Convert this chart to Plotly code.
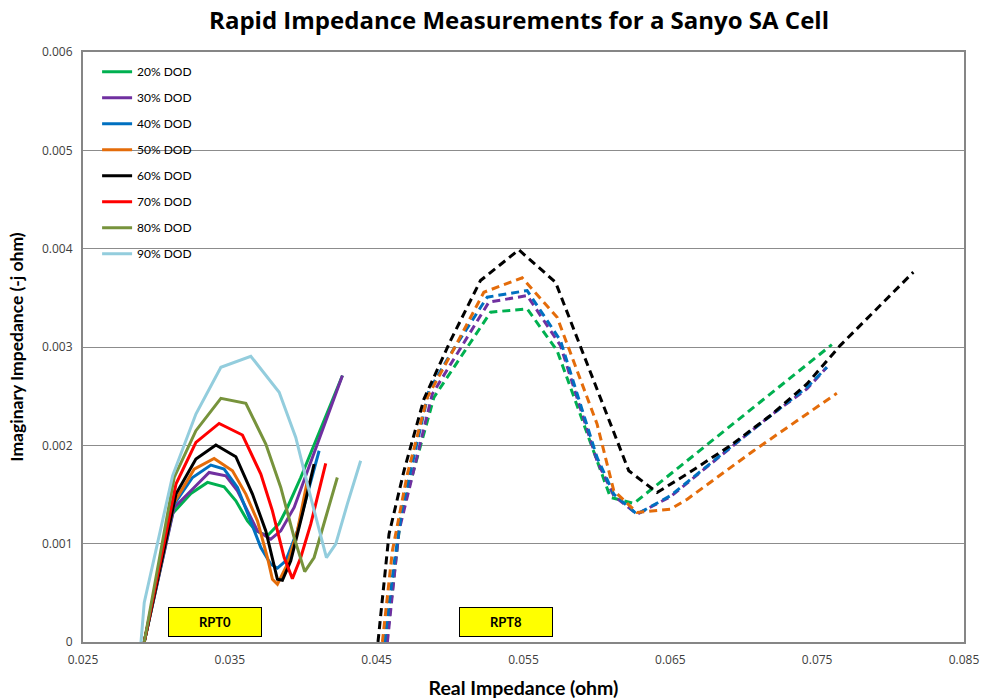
import plotly.graph_objects as go

# ---------------- data ----------------
dod_labels = ["20% DOD", "30% DOD", "40% DOD", "50% DOD", "60% DOD", "70% DOD", "80% DOD", "90% DOD"]
colors = ["#00B050", "#7030A0", "#0070C0", "#E46C0A", "#000000", "#FF0000", "#77933C", "#93CDDD"]

# RPT0 (solid lines)
rpt0_x_20 = [0.02917, 0.0311, 0.03235, 0.03348, 0.03461, 0.03541, 0.0362, 0.03677, 0.03756, 0.03836, 0.03892, 0.03983, 0.04267]
rpt0_y_20 = [0.0, 0.001307, 0.00151, 0.001623, 0.001578, 0.001436, 0.001232, 0.00113, 0.00108, 0.001205, 0.001368, 0.001673, 0.00271]

rpt0_x_30 = [0.02917, 0.03121, 0.03235, 0.03359, 0.03473, 0.03552, 0.0362, 0.03688, 0.03779, 0.03847, 0.03938, 0.04267]
rpt0_y_30 = [0.0, 0.001368, 0.001538, 0.001724, 0.00169, 0.001538, 0.001334, 0.00113, 0.001045, 0.00113, 0.001368, 0.00271]

rpt0_x_40 = [0.02917, 0.03121, 0.03246, 0.03371, 0.03461, 0.03552, 0.03632, 0.03711, 0.03779, 0.03824, 0.03881, 0.0396, 0.04108]
rpt0_y_40 = [0.0, 0.001402, 0.001673, 0.001799, 0.001758, 0.001572, 0.001266, 0.000961, 0.000791, 0.00075, 0.000825, 0.00113, 0.001945]

rpt0_x_50 = [0.02917, 0.03121, 0.03257, 0.03393, 0.03518, 0.03609, 0.03688, 0.03756, 0.0379, 0.03824, 0.03892, 0.0396, 0.04028]
rpt0_y_50 = [0.0, 0.001419, 0.001758, 0.001867, 0.001741, 0.001504, 0.001232, 0.000859, 0.000638, 0.000587, 0.000791, 0.00113, 0.00164]

rpt0_x_60 = [0.02917, 0.03133, 0.03269, 0.03405, 0.03541, 0.03654, 0.03745, 0.03824, 0.03858, 0.03915, 0.03994, 0.04074]
rpt0_y_60 = [0.0, 0.001504, 0.00186, 0.002003, 0.001884, 0.001504, 0.00113, 0.000638, 0.000628, 0.000825, 0.0013, 0.001809]

rpt0_x_70 = [0.02917, 0.03133, 0.03269, 0.03427, 0.03586, 0.03711, 0.0379, 0.0387, 0.03926, 0.03983, 0.04051, 0.04153]
rpt0_y_70 = [0.0, 0.001606, 0.00203, 0.002223, 0.002105, 0.001707, 0.001334, 0.000859, 0.000645, 0.000859, 0.001198, 0.001816]

rpt0_x_80 = [0.02917, 0.03121, 0.03269, 0.03439, 0.03609, 0.03745, 0.03847, 0.03938, 0.0401, 0.04074, 0.04153, 0.04232]
rpt0_y_80 = [0.0, 0.001673, 0.002149, 0.002478, 0.002427, 0.002013, 0.001572, 0.001062, 0.000716, 0.000859, 0.001266, 0.001673]

rpt0_x_90 = [0.02895, 0.02917, 0.0311, 0.03269, 0.03439, 0.03643, 0.03836, 0.03949, 0.04051, 0.04158, 0.04221, 0.043, 0.04391]
rpt0_y_90 = [0.0, 0.0004, 0.00169, 0.002318, 0.002794, 0.002906, 0.002539, 0.002081, 0.00147, 0.000859, 0.000995, 0.001402, 0.001843]

# RPT8 (dashed lines)
rpt8_x_20 = [0.04568, 0.04663, 0.0489, 0.05276, 0.05525, 0.05729, 0.06092, 0.06251, 0.076]
rpt8_y_20 = [0.0, 0.001266, 0.002488, 0.003354, 0.003388, 0.002963, 0.00147, 0.001409, 0.003024]

rpt8_x_30 = [0.04573, 0.04652, 0.04879, 0.05026, 0.05264, 0.05525, 0.05752, 0.06001, 0.06115, 0.06273, 0.065, 0.06908, 0.0718, 0.0743, 0.07566]
rpt8_y_30 = [0.0, 0.00113, 0.002522, 0.002878, 0.003456, 0.003523, 0.003014, 0.001843, 0.001487, 0.0013, 0.001477, 0.001973, 0.002301, 0.002573, 0.002794]

rpt8_x_40 = [0.04554, 0.04618, 0.04675, 0.04856, 0.05003, 0.05253, 0.05525, 0.05752, 0.06001, 0.06115, 0.06273, 0.065, 0.06908, 0.0718, 0.0743, 0.07566]
rpt8_y_40 = [0.0, 0.000791, 0.001368, 0.002556, 0.002929, 0.003507, 0.003574, 0.003065, 0.001877, 0.001504, 0.0013, 0.001487, 0.001979, 0.002301, 0.00259, 0.002794]

rpt8_x_50 = [0.04539, 0.04607, 0.04709, 0.04845, 0.05026, 0.0523, 0.05491, 0.05729, 0.06001, 0.06115, 0.06273, 0.065, 0.06613, 0.07067, 0.07634]
rpt8_y_50 = [0.0, 0.000927, 0.001707, 0.002488, 0.00298, 0.003557, 0.003703, 0.003303, 0.002217, 0.001538, 0.001317, 0.001351, 0.00145, 0.001945, 0.002529]

rpt8_x_60 = [0.04509, 0.04584, 0.04686, 0.04822, 0.05003, 0.05207, 0.05468, 0.05718, 0.05978, 0.06217, 0.0641, 0.06613, 0.06908, 0.0718, 0.0743, 0.07656, 0.08155]
rpt8_y_60 = [0.0, 0.001096, 0.001741, 0.002471, 0.003065, 0.003676, 0.003988, 0.003659, 0.002658, 0.001741, 0.001521, 0.001707, 0.001996, 0.002301, 0.002624, 0.003014, 0.003761]

rpt0_x = [rpt0_x_20, rpt0_x_30, rpt0_x_40, rpt0_x_50, rpt0_x_60, rpt0_x_70, rpt0_x_80, rpt0_x_90]
rpt0_y = [rpt0_y_20, rpt0_y_30, rpt0_y_40, rpt0_y_50, rpt0_y_60, rpt0_y_70, rpt0_y_80, rpt0_y_90]
rpt8_x = [rpt8_x_20, rpt8_x_30, rpt8_x_40, rpt8_x_50, rpt8_x_60]
rpt8_y = [rpt8_y_20, rpt8_y_30, rpt8_y_40, rpt8_y_50, rpt8_y_60]

x_tickvals = [0.025, 0.035, 0.045, 0.055, 0.065, 0.075, 0.085]
x_ticktext = ["0.025", "0.035", "0.045", "0.055", "0.065", "0.075", "0.085"]
y_tickvals = [0, 0.001, 0.002, 0.003, 0.004, 0.005, 0.006]
y_ticktext = ["0", "0.001", "0.002", "0.003", "0.004", "0.005", "0.006"]

# ---------------- figure ----------------
FONT = "Lato, 'Open Sans', 'DejaVu Sans', sans-serif"
TFONT = "'Open Sans', Lato, 'DejaVu Sans', sans-serif"
fig = go.Figure()

for i in range(len(rpt0_x)):
    fig.add_trace(go.Scatter(
        x=rpt0_x[i], y=rpt0_y[i], mode="lines", name=dod_labels[i],
        legendgroup=dod_labels[i],
        line=dict(color=colors[i], width=3),
    ))

for i in range(len(rpt8_x)):
    fig.add_trace(go.Scatter(
        x=rpt8_x[i], y=rpt8_y[i], mode="lines", name=dod_labels[i] + " RPT8",
        legendgroup=dod_labels[i], showlegend=False,
        line=dict(color=colors[i], width=3, dash="8px,5px"),
    ))

fig.add_annotation(x=0.034, y=0.0002, xref="x", yref="y", text="<b>RPT0</b>",
                   showarrow=False, bgcolor="#FFFF00", bordercolor="#000000",
                   borderwidth=1, borderpad=1, width=90, height=26,
                   font=dict(family=FONT, size=13, color="#000000"))
fig.add_annotation(x=0.0538, y=0.0002, xref="x", yref="y", text="<b>RPT8</b>",
                   showarrow=False, bgcolor="#FFFF00", bordercolor="#000000",
                   borderwidth=1, borderpad=1, width=90, height=26,
                   font=dict(family=FONT, size=13, color="#000000"))

fig.update_layout(
    width=983, height=700,
    paper_bgcolor="white", plot_bgcolor="white",
    margin=dict(l=83, r=19, t=52, b=58, autoexpand=False),
    font=dict(family=FONT, size=12, color="#404040"),
    title=dict(text="<b>Rapid Impedance Measurements for a Sanyo SA Cell</b>",
               x=0.528, xref="container", xanchor="center",
               y=0.970, yref="container", yanchor="middle",
               font=dict(family=TFONT, size=24, color="#000000")),
    legend=dict(x=0.016, y=0.991, xanchor="left", yanchor="top",
                bgcolor="rgba(255,255,255,0)", borderwidth=0,
                font=dict(family=FONT, size=12, color="#000000"),
                tracegroupgap=7, itemwidth=30),
    showlegend=True,
)

fig.update_xaxes(
    range=[0.025, 0.085], tickmode="array", tickvals=x_tickvals, ticktext=x_ticktext,
    showgrid=False, zeroline=False, showline=True, mirror=True, automargin=False,
    linecolor="#868686", linewidth=2, ticks="", ticklabelstandoff=6,
    ticklabeloverflow="allow",
    tickfont=dict(family=TFONT, size=12, color="#404040"),
    title=dict(text="<b>Real Impedance (ohm)</b>", standoff=14,
               font=dict(family=FONT, size=19.5, color="#000000")),
)
fig.update_yaxes(
    range=[0, 0.006], tickmode="array", tickvals=y_tickvals, ticktext=y_ticktext,
    showgrid=True, gridcolor="#8C8C8C", gridwidth=1, zeroline=False, automargin=False,
    showline=True, mirror=True, linecolor="#868686", linewidth=2, ticks="",
    ticklabelstandoff=6, ticklabeloverflow="allow",
    tickfont=dict(family=TFONT, size=12, color="#404040"),
    title=dict(text="<b>Imaginary Impedance (-j ohm)</b>", standoff=14,
               font=dict(family=FONT, size=17.5, color="#000000")),
)

# remove the browser's default 8px page margin so the figure fills the window exactly
fig.write_html("out.html",
               config={"displayModeBar": False},
               post_script="document.body.style.margin='0';document.body.style.overflow='hidden';")
